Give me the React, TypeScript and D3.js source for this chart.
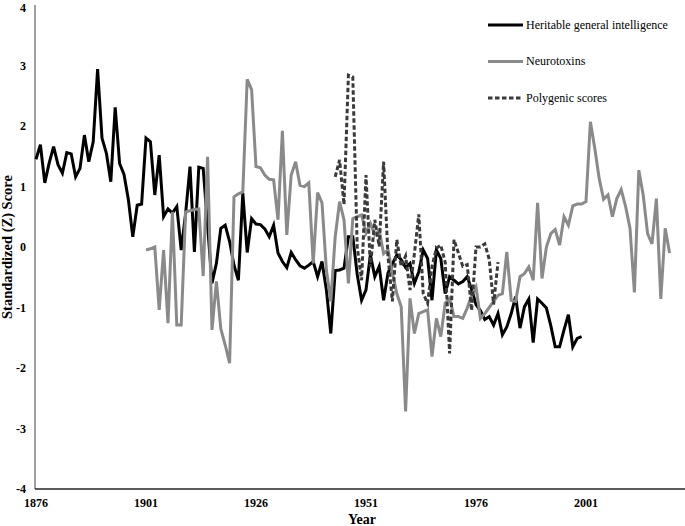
import React from "react";
import * as d3 from "d3";

const W = 685;
const H = 526;

// Heritable general intelligence, 1876–2000
const hgiStart = 1876;
const hgiValues = [
  1.45, 1.69, 1.06, 1.39, 1.66, 1.36, 1.22, 1.56, 1.54, 1.16,
  1.3, 1.85, 1.41, 1.74, 2.94, 1.8, 1.55, 1.08, 2.31, 1.38,
  1.2, 0.78, 0.17, 0.69, 0.71, 1.8, 1.74, 0.86, 1.52, 0.5,
  0.63, 0.56, 0.67, -0.05, 0.55, 1.33, -0.08, 1.32, 1.3, 0.35,
  -0.6, -0.27, 0.31, 0.36, 0.09, -0.3, -0.55, 0.89, -0.09, 0.47,
  0.38, 0.37, 0.3, 0.17, 0.36, -0.1, -0.24, -0.34, -0.09, -0.21,
  -0.31, -0.35, -0.3, -0.24, -0.49, -0.24, -0.71, -1.43, -0.39, -0.38,
  -0.35, 0.17, 0.17, -0.45, -0.88, -0.71, -0.13, -0.49, -0.32, -0.88,
  -0.43, -0.28, -0.13, -0.21, -0.34, -0.27, -0.6, -0.41, -0.05, -0.19,
  -0.88, -0.05, -0.19, -0.77, -0.49, -0.55, -0.61, -0.57, -0.49, -0.7,
  -0.95, -1.05, -1.2, -1.15, -1.29, -1.1, -1.45, -1.32, -1.1, -0.82,
  -1.34, -0.99, -0.86, -1.58, -0.86, -0.93, -1.01, -1.3, -1.65, -1.65,
  -1.37, -1.12, -1.65, -1.51, -1.48,
];

// Neurotoxins, 1901–2020
const neuroStart = 1901;
const neuroValues = [
  -0.05, -0.03, 0.0, -1.04, -0.05, -1.26, 0.58, -1.29, -1.29, 0.58,
  0.6, 0.62, 0.63, -0.48, 1.49, -1.37, -0.57, -1.35, -1.62, -1.92,
  0.83, 0.88, 0.91, 2.77, 2.6, 1.33, 1.31, 1.19, 1.12, 1.11,
  0.45, 1.92, 0.2, 1.19, 1.41, 1.02, 1.0, 1.06, -0.27, 0.9,
  0.73, -0.38, -0.9, 0.17, 0.75, 0.45, -0.6, 0.47, 0.5, 0.53,
  0.23, 0.39, 0.2, 0.28, -0.11, -0.05, -0.43, -0.77, -0.99, -2.72,
  -0.85, -1.43, -1.1, -1.07, -1.04, -1.81, -1.18, -1.48, -0.93, -0.85,
  -1.15, -1.15, -1.18, -1.01, -0.8, -0.66, -1.18, -1.1, -1.0, -0.9,
  -0.8, -0.77, -0.08, -0.88, -0.9, -0.49, -0.44, -0.33, -0.55, 0.73,
  -0.52, 0.0, 0.22, 0.29, 0.03, 0.5, 0.36, 0.68, 0.71, 0.71,
  0.75, 2.07, 1.63, 1.13, 0.79, 0.86, 0.5, 0.8, 0.95, 0.67,
  0.31, -0.75, 1.27, 0.86, 0.22, 0.05, 0.8, -0.86, 0.31, -0.1,
];

// Polygenic scores, 1944–1981
const polyStart = 1944;
const polyValues = [
  1.16, 1.44, 0.7, 2.84, 2.81, 0.01, -0.55, 1.19, -0.33, 0.45,
  0.01, 1.41, -0.16, -0.9, 0.12, -0.32, -0.15, -0.71, -0.11, 0.54,
  -0.77, -0.93, -0.32, -0.02, 0.03, -0.25, -1.76, 0.12, -0.1, -0.32,
  -0.29, -1.05, 0.0, 0.0, 0.05, -0.2, -0.95, -0.25,
];

const yTicks = [-4, -3, -2, -1, 0, 1, 2, 3, 4];
const xTicks = [1876, 1901, 1926, 1951, 1976, 2001];
const seriesNames = [
  "Heritable general intelligence",
  "Neurotoxins",
  "Polygenic scores",
];

const toPoints = (start: number, vals: number[]) =>
  vals.map((v, i) => ({ year: start + i, value: v }));

export default function App() {
  const x = d3.scaleLinear().domain([1876, 2023.5]).range([36, 685]);
  const y = d3.scaleLinear().domain([-4, 4]).range([489, 5]);
  const line = d3
    .line<{ year: number; value: number }>()
    .x((d) => x(d.year))
    .y((d) => y(d.value));

  const series = [
    { name: seriesNames[0], data: toPoints(hgiStart, hgiValues), color: "#000000", dash: undefined as string | undefined },
    { name: seriesNames[1], data: toPoints(neuroStart, neuroValues), color: "#8a8a8a", dash: undefined },
    { name: seriesNames[2], data: toPoints(polyStart, polyValues), color: "#3a3a3a", dash: "4.5,2.5" },
  ];

  const font = "'Liberation Serif', 'Times New Roman', serif";

  return (
    <svg
      width={W}
      height={H}
      style={{ position: "absolute", left: 0, top: 0, background: "#fff" }}
      fontFamily={font}
    >
      <rect width={W} height={H} fill="#fff" />
      {/* axes */}
      <line x1={35} x2={35} y1={y(4)} y2={y(-4)} stroke="#404040" strokeWidth={1} />
      <line x1={35} x2={685} y1={y(-4)} y2={y(-4)} stroke="#262626" strokeWidth={1.3} />
      {yTicks.map((t) => (
        <text key={t} x={26} y={Math.max(y(t), 8)} dy="0.35em" textAnchor="end" fontSize={12} fontWeight="bold">
          {t}
        </text>
      ))}
      {xTicks.map((t) => (
        <text key={t} x={x(t)} y={507} textAnchor="middle" fontSize={12} fontWeight="bold">
          {t}
        </text>
      ))}
      <text x={362} y={524} textAnchor="middle" fontSize={14} fontWeight="bold">
        Year
      </text>
      <text
        transform={`translate(12, ${y(0)}) rotate(-90)`}
        textAnchor="middle"
        fontSize={14.5}
        fontWeight="bold"
      >
        Standardized (Z) Score
      </text>
      {/* series */}
      {series.map((s) => (
        <path
          key={s.name}
          d={line(s.data) || ""}
          fill="none"
          stroke={s.color}
          strokeWidth={3}
          strokeDasharray={s.dash}
          strokeLinejoin="miter"
        />
      ))}
      {/* legend */}
      {series.map((s, i) => {
        const ly = 25 + i * 36.5;
        return (
          <g key={s.name}>
            <line x1={488} x2={523} y1={ly} y2={ly} stroke={s.color} strokeWidth={3} strokeDasharray={s.dash} />
            <text x={526} y={ly} dy="0.33em" fontSize={12}>
              {s.name}
            </text>
          </g>
        );
      })}
    </svg>
  );
}
